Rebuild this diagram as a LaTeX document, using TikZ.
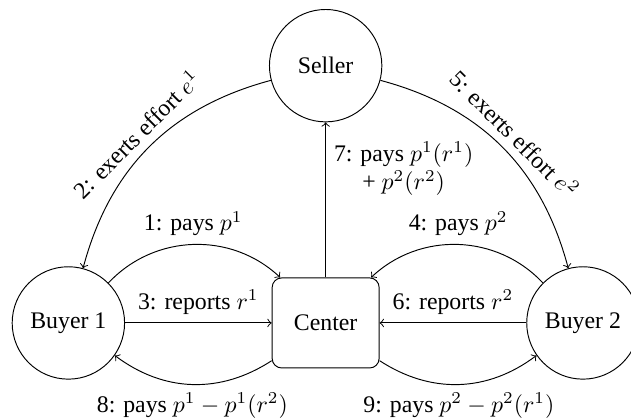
\documentclass[tikz,border=0pt]{standalone}
\usepackage{fontspec}
\setmainfont{Liberation Serif}
\usepackage{amsmath}
\usepackage{amssymb}
\usetikzlibrary{arrows}

\begin{document}
\begin{tikzpicture}[>=to]
	%\draw [help lines] (-5,-2) grid (5,5);
	\useasboundingbox (-4.81,-1.43) rectangle (4.51,4.77);
	%Venditore
	\node [draw, circle, minimum size=1.66cm] (seller) at (0,3.8) {Seller};
	%Compratori
	\node [draw, circle, minimum size=1.66cm] (buyer1) at (-3.8,0) {Buyer 1};
	\node [draw, circle, minimum size=1.66cm] (buyer2) at (3.8,0) {Buyer 2};
	%Centro
	\node [draw, rounded corners, minimum width=1.58cm, minimum height=1.33cm] (center) at (0,0) {Center};
	%Sforzi
	\draw [->] (seller) to [bend right=30] node [midway, above, sloped] {2: exerts effort $e^1$} (buyer1);
	\draw [->] (seller) to [bend left=30] node [midway, above, sloped] {5: exerts effort $e^2$} (buyer2);
	%Compratore 1
	\draw [->] (buyer1) to [bend left=45] node [midway, above] {1: pays $p^1$} (center);
	\draw [->] (buyer1) -- (center) node [midway, above] {3: reports $r^1$};
	\draw [->] (center) to [bend left=35] node [midway, below] {8: pays $p^1 - p^1(r^2)$} (buyer1);
	%Compratore 2
	\draw [->] (buyer2) to [bend right=45] node [midway, above] {4: pays $p^2$} (center);
	\draw [->] (buyer2) -- (center) node [midway, above] {6: reports $r^2$};
	\draw [->] (center) to [bend right=35] node [midway, below] {9: pays $p^2 - p^2(r^1)$} (buyer2);
	%Pagamento al venditore
	\draw [->] (center) -- (seller) node [pos=0.7, right, align=center] {7: pays $p^1(r^1)$\\ + $p^2(r^2)$};
\end{tikzpicture}
\end{document}
